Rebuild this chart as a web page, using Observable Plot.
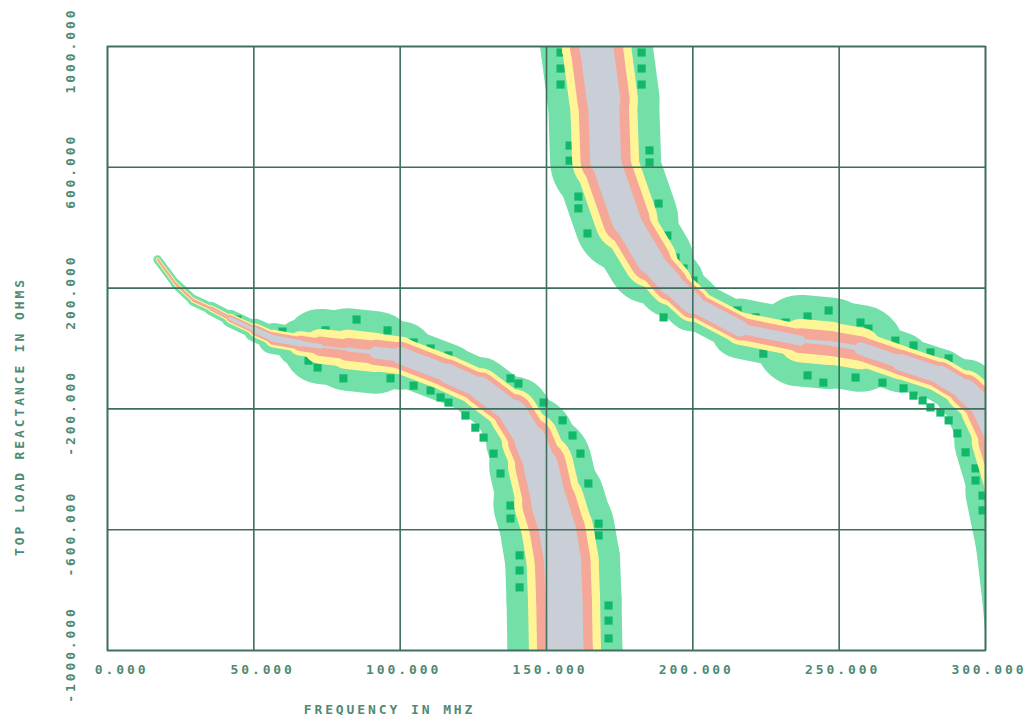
<!DOCTYPE html>
<html><head><meta charset="utf-8">
<script src="https://cdn.jsdelivr.net/npm/d3@7"></script>
<script src="https://cdn.jsdelivr.net/npm/@observablehq/plot@0.6"></script>
<style>body{margin:0;background:#fff}</style>
</head><body><div id="chart"></div>
<script>
// Tick values
const xTicks = [0, 50, 100, 150, 200, 250, 300];
const yTicks = [-1000, -600, -200, 200, 600, 1000];

// Lower-left branch: centre line (MHz, ohms) and relative band spread (outer band, inner core)
const b1Freq  = [17.1, 23.2, 29.4, 35.5, 42.0, 50.6, 56.7, 65.9, 72.8, 82.0, 91.6, 100.1, 116.2, 127.4, 138.7, 144.5, 148.0, 151.0, 153.8, 155.5, 156.0, 156.3, 156.4];
const b1React = [295, 215, 159, 132, 99, 60, 33, 17, 7, -3, -13, -23, -83, -132, -215, -305, -387, -513, -603, -702, -834, -1000, -1100];
const b1Outer = [0.08, 0.09, 0.10, 0.12, 0.15, 0.20, 0.26, 0.36, 0.60, 0.90, 0.75, 0.62, 0.56, 0.58, 0.66, 0.82, 0.96, 1.10, 1.14, 1.15, 1.15, 1.15, 1.15];
const b1Core  = [0, 0, 0, 0, 0.02, 0.05, 0.07, 0.06, 0.04, 0, 0.08, 0.16, 0.18, 0.21, 0.25, 0.30, 0.33, 0.36, 0.37, 0.37, 0.37, 0.37, 0.37];

// Upper-right branch
const b2Freq  = [167.1, 167.1, 169.5, 170.2, 177.3, 185.5, 192.4, 199.9, 216.3, 236.8, 247.0, 257.3, 271.0, 284.6, 293.2, 300.0, 305.1, 310.2, 313.7, 316.1, 317.8];
const b2React = [1053, 1000, 821, 622, 424, 291, 215, 149, 66, 26, 17, 0, -46, -89, -139, -199, -305, -470, -636, -834, -1033];
const b2Outer = [1.12, 1.12, 1.12, 1.10, 0.98, 0.75, 0.60, 0.52, 0.45, 0.75, 1.08, 0.65, 0.55, 0.50, 0.55, 0.70, 0.85, 1.00, 1.00, 1.00, 1.00];
const b2Core  = [0.35, 0.35, 0.32, 0.30, 0.28, 0.25, 0.22, 0.20, 0.12, 0.08, 0, 0.10, 0.15, 0.18, 0.20, 0.25, 0.28, 0.30, 0.30, 0.30, 0.30];

// Dark green marker cells (MHz, ohms)
const darkFreq  = [44.4, 59.8, 74.5, 85.1, 95.7, 104.6, 110.4, 116.5, 137.7, 140.4, 149.0, 155.5, 158.9, 161.6, 164.3, 167.8, 167.8, 171.2, 171.2, 171.2,
  68.7, 71.8, 80.6, 96.7, 104.6, 110.4, 113.8, 116.5, 122.3, 125.7, 128.5, 131.9, 134.3, 137.7, 137.7, 140.8, 140.8, 140.8,
  154.8, 154.8, 154.8, 157.9, 157.9, 160.9, 160.9, 164.0, 190.0, 224.1, 239.2, 244.6, 255.6, 264.8, 272.0, 275.4, 278.5, 281.2, 284.6, 287.4, 290.4, 293.2, 296.6, 296.6, 299.0, 299.0,
  182.5, 182.5, 182.5, 185.2, 185.2, 188.3, 191.3, 194.1, 196.8, 200.2, 215.3, 221.4, 231.7, 239.2, 246.4, 257.3, 260.0, 269.2, 275.4, 281.2, 287.4];
const darkReact = [96, 56, 60, 96, 60, 20, 0, -23, -99, -116, -179, -238, -288, -348, -447, -580, -619, -851, -901, -960,
  -40, -63, -99, -99, -123, -139, -162, -179, -222, -262, -295, -348, -414, -520, -563, -685, -735, -791,
  980, 927, 874, 672, 622, 503, 464, 381, 103, -17, -89, -113, -96, -113, -132, -156, -172, -195, -212, -238, -281, -344, -397, -437, -487, -536,
  980, 927, 874, 656, 616, 480, 374, 301, 265, 225, 126, 103, 86, 106, 126, 86, 66, 26, 10, -13, -33];

const GREEN = "#72e0a8", DARK = "#12b86a", YELLOW = "#fff596", SALMON = "#f5a898", GRAY = "#c9ccd4";
const INK = "#3e6e5c", TXT = "#4f8a72";
const K = 100; // px per unit of spread

function segments(fx, ry, outer, core) {
  const s = [];
  for (let i = 0; i < fx.length - 1; i++) {
    s.push({x1: fx[i], y1: ry[i], x2: fx[i + 1], y2: ry[i + 1],
      o: (outer[i] + outer[i + 1]) / 2, c: (core[i] + core[i + 1]) / 2});
  }
  return s;
}
const segs = [...segments(b1Freq, b1React, b1Outer, b1Core), ...segments(b2Freq, b2React, b2Outer, b2Core)];
const dark = darkFreq.map((f, i) => ({f, r: darkReact[i]}));

const layer = (color, w) => Plot.link(segs, {x1: "x1", y1: "y1", x2: "x2", y2: "y2",
  stroke: color, strokeWidth: w, strokeLinecap: "round", clip: true});

const font = {fontFamily: "DejaVu Sans Mono", fontWeight: "bold", fontSize: 13, fill: TXT};

const chart = Plot.plot({
  width: 1028, height: 715,
  marginLeft: 107, marginRight: 43, marginTop: 46, marginBottom: 65,
  style: {fontFamily: "DejaVu Sans Mono", letterSpacing: "2.9px", background: "#fff"},
  x: {domain: [0, 300], axis: null},
  y: {domain: [-1000, 1000], axis: null},
  marks: [
    layer(GREEN, d => d.o * K),
    Plot.dot(dark, {x: "f", y: "r", symbol: "square", r: 4.6, fill: DARK, clip: true}),
    layer(YELLOW, d => (d.c + 0.45 * (d.o - d.c)) * K),
    layer(SALMON, d => (d.c + 0.24 * (d.o - d.c)) * K),
    layer(GRAY, d => d.c * K),
    Plot.ruleX(xTicks, {stroke: INK, strokeWidth: 1.6}),
    Plot.ruleY(yTicks, {stroke: INK, strokeWidth: 1.6}),
    Plot.frame({stroke: INK, strokeWidth: 1.6}),
    Plot.text(xTicks, {x: d => d, frameAnchor: "bottom", text: d => d.toFixed(3),
      textAnchor: "end", lineAnchor: "bottom", dx: 41, dy: 23, ...font}),
    Plot.text(yTicks, {y: d => d, frameAnchor: "left", text: d => d.toFixed(3),
      rotate: -90, textAnchor: "middle", lineAnchor: "bottom", dx: -33, dy: 4, ...font}),
    Plot.text(["FREQUENCY IN MHZ"], {frameAnchor: "bottom-left", text: d => d,
      textAnchor: "middle", lineAnchor: "bottom", dx: 282, dy: 63, ...font}),
    Plot.text(["TOP LOAD REACTANCE IN OHMS"], {frameAnchor: "left", text: d => d, rotate: -90,
      textAnchor: "middle", lineAnchor: "bottom", dx: -84, dy: 68, ...font})
  ]
});

// stippled grey core, as in the original dithered print
const svg = d3.select(chart);
const pat = svg.insert("defs", ":first-child").append("pattern")
  .attr("id", "stipple").attr("patternUnits", "userSpaceOnUse").attr("width", 2).attr("height", 2);
pat.append("rect").attr("width", 2).attr("height", 2).attr("fill", "#e6e8ee");
pat.append("rect").attr("width", 1).attr("height", 1).attr("fill", "#aeb3bf");
pat.append("rect").attr("x", 1).attr("y", 1).attr("width", 1).attr("height", 1).attr("fill", "#aeb3bf");
svg.selectAll(`[stroke="${GRAY}"]`).attr("stroke", "url(#stipple)");

document.getElementById("chart").appendChild(chart);
</script>
</body></html>
